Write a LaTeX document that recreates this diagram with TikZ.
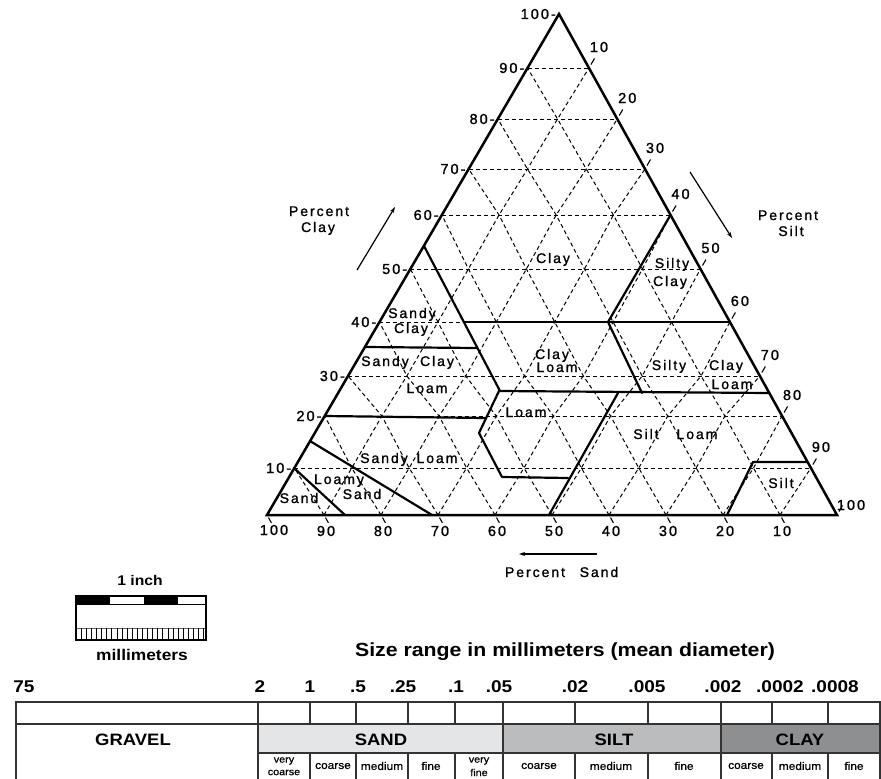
\documentclass[tikz,border=0pt]{standalone}
\usepackage{fontspec}
\setmainfont{Liberation Sans}
\newfontfamily\trifont[LetterSpace=14,FakeBold=1.2]{Liberation Sans}
\newfontfamily\widefont[FakeStretch=1.12]{Liberation Sans}
\newfontfamily\subfont[FakeStretch=1.08,FakeBold=0.8]{Liberation Sans}
\usetikzlibrary{arrows.meta}
\definecolor{sandgray}{HTML}{E4E5E7}
\definecolor{siltgray}{HTML}{BBBCBE}
\definecolor{claygray}{HTML}{8E8F91}
\definecolor{tblline}{HTML}{333333}
\begin{document}
\begin{tikzpicture}[x=1pt,y=-1pt,
  gridline/.style={dash pattern=on 4pt off 3pt, line width=1pt},
  edge/.style={line width=2.5pt, line join=miter},
  bound/.style={line width=2.2pt, line join=round, line cap=round},
  tick/.style={line width=1.1pt},
  lab/.style={font=\trifont\fontsize{14}{16}\selectfont, inner sep=0pt, text height=10pt, text depth=0pt, anchor=center},
  num/.style={font=\trifont\fontsize{14.5}{16}\selectfont, inner sep=0pt, text height=10pt, text depth=0pt},
  pctarrow/.style={line width=1.2pt, -{Stealth[length=6pt,width=4pt]}},
  tbl/.style={line width=1.4pt, draw=tblline},
  head/.style={font=\widefont\bfseries\fontsize{16.5}{18}\selectfont, inner sep=0pt, text height=11pt, text depth=0pt},
  sizenum/.style={font=\widefont\bfseries\fontsize{17}{18}\selectfont, inner sep=0pt, text height=12pt, text depth=0pt},
  sub/.style={font=\subfont\fontsize{11}{11.5}\selectfont, inner sep=0pt, align=center},
  sub2/.style={font=\subfont\fontsize{10}{10.5}\selectfont, inner sep=0pt, align=center}
]
\useasboundingbox (0,0) rectangle (881,779);
\clip (0,0) rectangle (881,779);
\fill[white] (0,0) rectangle (881,779);

% ---------- lattice coordinates ----------
\def\Ylev{{515,468,416,376,322,269,215,169,119,68,14}}
\foreach \j in {0,...,10}{
  \pgfmathtruncatemacro\m{10-\j}
  \pgfmathsetmacro\yy{\Ylev[\j]}
  \pgfmathsetmacro\xl{559-(\yy-14)/501*292}
  \pgfmathsetmacro\xr{559+(\yy-14)/501*278}
  \foreach \i in {0,...,\m}{
    \pgfmathsetmacro\xx{\xl+(\xr-\xl)/max(1,\m)*\i}
    \coordinate (P-\i-\j) at (\xx,\yy);
  }
}

% ---------- dashed grid ----------
\foreach \j in {1,...,9}{
  \pgfmathtruncatemacro\m{10-\j}
  \draw[gridline] (P-0-\j) -- (P-\m-\j);
}
\foreach \i in {1,...,9}{
  \pgfmathtruncatemacro\m{10-\i}
  \draw[gridline] (P-\i-0) \foreach \j in {1,...,\m}{ -- (P-\i-\j)};
}
\foreach \k in {1,...,9}{
  \draw[gridline] (P-\k-0) \foreach \j [evaluate=\j as \s using int(\k-\j)] in {1,...,\k}{ -- (P-\s-\j)};
}

% ---------- class boundaries ----------
\coordinate (b1a) at (294,468); \coordinate (b1b) at (345,515);
\coordinate (b2a) at (310,441); \coordinate (b2b) at (432,515);
\coordinate (b3a) at (325,416); \coordinate (b3b) at (485,418);
\coordinate (l1) at (499,391); \coordinate (l2) at (479,433);
\coordinate (l3) at (502,477); \coordinate (l4) at (568,478);
\coordinate (s50a) at (549,515); \coordinate (s50b) at (618,393);
\coordinate (c27r) at (769,393);
\coordinate (sc1) at (424,246); \coordinate (sc2) at (500,391);
\coordinate (c35a) at (365,347); \coordinate (c35b) at (477,348);
\coordinate (c40a) at (465,322); \coordinate (c40b) at (730,322);
\coordinate (sy1) at (P-4-6); \coordinate (sy2) at (608,322);
\coordinate (sl2) at (642,393);
\coordinate (st1) at (727,515); \coordinate (st2) at (753,462); \coordinate (st3) at (807,462);

\draw[bound] (b1a) -- (b1b);
\draw[bound] (b2a) -- (b2b);
\draw[bound] (b3a) -- (b3b);
\draw[bound] (l1) -- (l2) -- (l3) -- (l4);
\draw[bound] (s50a) -- (s50b);
\draw[bound] (l1) -- (c27r);
\draw[bound] (sc1) -- (sc2);
\draw[bound] (c35a) -- (c35b);
\draw[bound] (c40a) -- (c40b);
\draw[bound] (sy1) -- (sy2) -- (sl2);
\draw[bound] (st1) -- (st2) -- (st3);

% ---------- triangle ----------
\draw[edge] (P-0-0) -- (P-10-0) -- (P-0-10) -- cycle;

% ---------- ticks and numbers ----------
\foreach \j in {1,...,10}{
  \pgfmathtruncatemacro\v{10*\j}
  \node[num, anchor=east, xshift=-3pt] (cl\j) at (P-0-\j) {\v-};
}
\foreach \j in {0,...,9}{
  \pgfmathtruncatemacro\i{10-\j}
  \draw[tick] ([shift={(2,-3.5)}]P-\i-\j) -- ([shift={(5.5,-9.5)}]P-\i-\j);
}
\foreach \j in {1,...,9}{
  \pgfmathtruncatemacro\i{10-\j}
  \pgfmathtruncatemacro\v{10*\i}
  \node[num] (si\j) at ([shift={(10,-21)}]P-\i-\j) {\v};
}
\node[num] (si0) at (851,505) {100};
\foreach \i in {0,...,9}{
  \draw[tick] ([shift={(1.5,2.6)}]P-\i-0) -- ([shift={(4.4,7.9)}]P-\i-0);
}
\node[num] (sa0) at ([shift={(7,15)}]P-0-0) {100};
\foreach \i in {1,...,9}{
  \pgfmathtruncatemacro\v{100-10*\i}
  \node[num] (sa\i) at ([shift={(2,16)}]P-\i-0) {\v};
}

% ---------- class names ----------
\node[lab] (w1) at (553,258) {Clay};
\node[lab] (w2) at (672,263) {Silty};
\node[lab] (w3) at (670,281) {Clay};
\node[lab] (w4) at (412,313) {Sandy};
\node[lab] (w5) at (411,328) {Clay};
\node[lab] (w6) at (385,361) {Sandy};
\node[lab] (w7) at (437,361) {Clay};
\node[lab] (w8) at (427,388) {Loam};
\node[lab] (w9) at (552,354) {Clay};
\node[lab] (w10) at (557,367) {Loam};
\node[lab] (w11) at (669,365) {Silty};
\node[lab] (w12) at (726,365) {Clay};
\node[lab] (w13) at (732,384) {Loam};
\node[lab] (w14) at (526,412) {Loam};
\node[lab] (w15) at (646,434) {Silt};
\node[lab] (w16) at (697,434) {Loam};
\node[lab] (w17) at (781,483) {Silt};
\node[lab] (w18) at (384,458) {Sandy};
\node[lab] (w19) at (437,458) {Loam};
\node[lab] (w20) at (339,479) {Loamy};
\node[lab] (w21) at (362,494) {Sand};
\node[lab] (w22) at (299,498) {Sand};

% ---------- axis titles ----------
\node[lab] (pc1) at (319,211) {Percent};
\node[lab] (pc2) at (318,227) {Clay};
\coordinate (pca) at (357,270); \coordinate (pcb) at (395,207);
\draw[pctarrow] (pca) -- (pcb);
\node[lab] (ps1) at (788,215) {Percent};
\node[lab] (ps2) at (791,231) {Silt};
\coordinate (psa) at (690,172); \coordinate (psb) at (732,238);
\draw[pctarrow] (psa) -- (psb);
\node[lab] (pd1) at (535,572) {Percent};
\node[lab] (pd2) at (599,572) {Sand};
\coordinate (pda) at (597,554); \coordinate (pdb) at (519,554);
\draw[pctarrow] (pda) -- (pdb);

% ---------- scale bar ----------
\node[font=\widefont\bfseries\fontsize{14}{16}\selectfont, inner sep=0pt] (inch) at (140,580) {1 inch};
\fill[black] (76,596) rectangle (110,604);
\fill[black] (144,596) rectangle (178,604);
\draw[line width=0.8pt] (76,604) -- (206,604);
\draw[line width=0.6pt, draw=black!60] (76,628) -- (206,628);
\foreach \t in {0,...,25}{
  \draw[line width=0.5pt] ({76+\t*5.1},628) -- ({76+\t*5.1},640);
}
\draw[line width=1.4pt] (76,596) rectangle (206,640);
\node[font=\widefont\bfseries\fontsize{15.5}{16}\selectfont, inner sep=0pt] (mm) at (142,655) {millimeters};

% ---------- size range ----------
\node[font=\widefont\bfseries\fontsize{19}{20}\selectfont, inner sep=0pt] (title) at (565,652) {Size range in millimeters (mean diameter)};
\node[sizenum] (n1) at (24,686) {75};
\node[sizenum] (n2) at (260,686) {2};
\node[sizenum] (n3) at (310,686) {1};
\node[sizenum] (n4) at (358,686) {.5};
\node[sizenum] (n5) at (403,686) {.25};
\node[sizenum] (n6) at (456,686) {.1};
\node[sizenum] (n7) at (499,686) {.05};
\node[sizenum] (n8) at (575,686) {.02};
\node[sizenum] (n9) at (647,686) {.005};
\node[sizenum] (n10) at (723,686) {.002};
\node[sizenum] (n11) at (780,686) {.0002};
\node[sizenum] (n12) at (835,686) {.0008};

% ---------- table ----------
\fill[sandgray] (258,724) rectangle (503,753);
\fill[siltgray] (503,724) rectangle (721,753);
\fill[claygray] (721,724) rectangle (880,753);
\draw[tbl] (16,795) -- (16,702) -- (880,702) -- (880,795);
\draw[tbl] (16,724) -- (880,724);
\draw[tbl] (258,753) -- (880,753);
\foreach \x in {258,503,721}{ \draw[tbl] (\x,702) -- (\x,795); }
\foreach \x in {310,356,408,455,575,648,772,828}{
  \draw[tbl] (\x,702) -- (\x,724);
  \draw[tbl] (\x,753) -- (\x,795);
}
\node[head] (gravel) at (133,740) {GRAVEL};
\node[head] (sand) at (381,740) {SAND};
\node[head] (silt) at (614,740) {SILT};
\node[head] (clay) at (800,740) {CLAY};

\node[sub2] (t1a) at (284,761) {very};
\node[sub2] (t1b) at (284,772.5) {coarse};
\node[sub] (t2) at (333,766) {coarse};
\node[sub] (t3) at (382,766) {medium};
\node[sub] (t4) at (431,766) {fine};
\node[sub2] (t5a) at (479,761) {very};
\node[sub2] (t5b) at (479,772.5) {fine};
\node[sub] (t6) at (539,766) {coarse};
\node[sub] (t7) at (611,766) {medium};
\node[sub] (t8) at (684,766) {fine};
\node[sub] (t9) at (746,766) {coarse};
\node[sub] (t10) at (800,766) {medium};
\node[sub] (t11) at (854,766) {fine};
\end{tikzpicture}
\end{document}
